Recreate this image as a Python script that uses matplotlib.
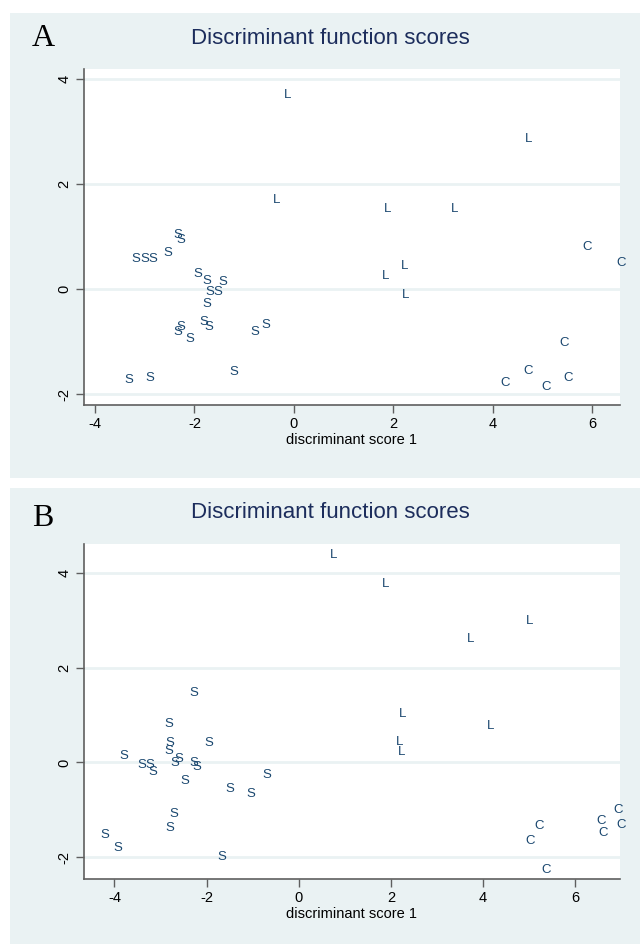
import matplotlib
matplotlib.use("Agg")
import matplotlib.pyplot as plt
from matplotlib.patches import Rectangle

# ---- Data: panel A ----
a_L_x = [-0.13, 4.73, -0.35, 1.88, 3.23, 2.22, 1.84, 2.25]
a_L_y = [3.69, 2.86, 1.70, 1.52, 1.52, 0.45, 0.25, -0.10]
a_C_x = [5.90, 6.59, 5.43, 4.72, 5.51, 4.24, 5.07]
a_C_y = [0.80, 0.51, -1.03, -1.56, -1.69, -1.79, -1.85]
a_S_x = [-2.34, -2.27, -3.18, -2.99, -2.84, -2.54, -1.93, -1.75, -1.43, -1.69, -1.52,
         -1.75, -1.81, -1.71, -2.28, -2.34, -2.09, -0.78, -0.57, -1.20, -3.31, -2.89]
a_S_y = [1.03, 0.94, 0.58, 0.58, 0.57, 0.69, 0.29, 0.15, 0.13, -0.05, -0.06,
         -0.27, -0.63, -0.71, -0.72, -0.81, -0.95, -0.82, -0.68, -1.57, -1.73, -1.68]

# ---- Data: panel B ----
b_L_x = [0.75, 1.88, 5.00, 3.73, 2.26, 4.17, 2.19, 2.22]
b_L_y = [4.37, 3.76, 2.98, 2.60, 1.03, 0.77, 0.44, 0.23]
b_C_x = [6.93, 6.56, 6.99, 5.22, 6.61, 5.02, 5.37]
b_C_y = [-1.01, -1.23, -1.33, -1.34, -1.49, -1.66, -2.27]
b_S_x = [-2.27, -2.81, -2.79, -1.96, -2.82, -3.79, -2.61, -2.68, -3.40, -3.23, -3.17,
         -2.28, -2.21, -2.47, -0.70, -1.49, -1.04, -2.71, -2.80, -4.21, -3.92, -1.66]
b_S_y = [1.46, 0.82, 0.40, 0.40, 0.24, 0.13, 0.08, -0.02, -0.06, -0.06, -0.20,
         -0.02, -0.09, -0.40, -0.27, -0.57, -0.67, -1.09, -1.39, -1.54, -1.81, -1.99]

x_ticks = [-4, -2, 0, 2, 4, 6]
y_ticks = [-2, 0, 2, 4]
title = "Discriminant function scores"
xlabel = "discriminant score 1"

BG = "#eaf2f3"
NAVY = "#1a476f"
TITLE_C = "#1c2d5c"
AXC = "#5f5f5f"

W, H = 640, 944
fig = plt.figure(figsize=(W / 100, H / 100), dpi=100, facecolor="white")

def fx(px):
    return px / W

def fy(py):
    return 1 - py / H

# background panels
fig.patches.append(Rectangle((fx(10), fy(478)), fx(630), (478 - 13) / H,
                             transform=fig.transFigure, facecolor=BG, edgecolor="none", zorder=-10))
fig.patches.append(Rectangle((fx(10), 0), fx(630), (944 - 488) / H,
                             transform=fig.transFigure, facecolor=BG, edgecolor="none", zorder=-10))

def panel(top, bottom, xlim, ylim, Lx, Ly, Cx, Cy, Sx, Sy, letter, title_y, letter_y):
    ax = fig.add_axes([fx(84), fy(bottom), fx(620 - 84), (bottom - top) / H])
    ax.set_zorder(5)
    ax.set_facecolor("white")
    ax.set_xlim(*xlim)
    ax.set_ylim(*ylim)
    ax.set_xticks(x_ticks)
    ax.set_yticks(y_ticks)
    ax.set_xticklabels([str(t) for t in x_ticks], fontsize=10.5, family="Liberation Sans")
    ax.set_yticklabels([str(t) for t in y_ticks], fontsize=10.5, family="Liberation Sans",
                       rotation=90, va="center")
    ax.tick_params(axis="both", direction="out", length=6, width=1, color=AXC, pad=3)
    for s in ["top", "right"]:
        ax.spines[s].set_visible(False)
    for s in ["left", "bottom"]:
        ax.spines[s].set_color(AXC)
        ax.spines[s].set_linewidth(1.2)
    ax.yaxis.grid(True, color=BG, linewidth=2)
    ax.set_axisbelow(True)
    for xs, ys, lab in [(Sx, Sy, "S"), (Lx, Ly, "L"), (Cx, Cy, "C")]:
        for x, y in zip(xs, ys):
            ax.text(x, y, lab, color=NAVY, fontsize=9.5, family="Liberation Sans",
                    ha="center", va="center", clip_on=False)
    ax.set_xlabel(xlabel, fontsize=10.5, family="Liberation Sans", labelpad=1)
    fig.text(fx(330), fy(title_y), title, color=TITLE_C, fontsize=16,
             family="Liberation Sans", ha="center", va="center", zorder=6)
    fig.text(fx(43), fy(letter_y), letter, color="black", fontsize=23,
             family="Liberation Serif", ha="center", va="center", zorder=6)
    return ax

panel(69, 405, (-4.22, 6.56), (-2.2, 4.19), a_L_x, a_L_y, a_C_x, a_C_y, a_S_x, a_S_y,
      "A", 38, 38)
panel(544, 879, (-4.66, 6.97), (-2.46, 4.61), b_L_x, b_L_y, b_C_x, b_C_y, b_S_x, b_S_y,
      "B", 513, 518)

fig.savefig("out.png", dpi=100, facecolor="white")
